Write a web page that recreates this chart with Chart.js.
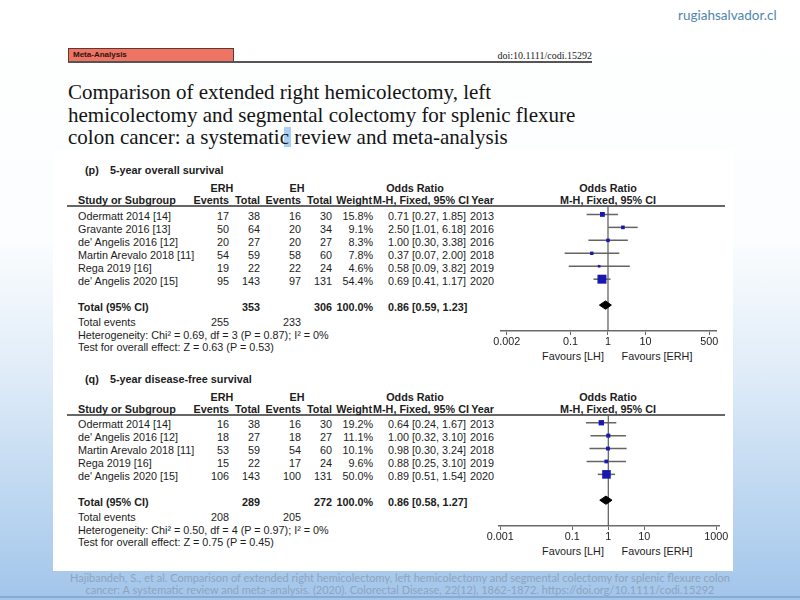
<!DOCTYPE html>
<html>
<head>
<title>ERH vs LH forest plots</title>
<script src="https://cdn.jsdelivr.net/npm/chart.js"></script>
<style>
  html, body { margin: 0; padding: 0; }
  body {
    width: 800px; height: 600px; overflow: hidden; position: relative;
    font-family: "Liberation Sans", Arial, sans-serif;
    background: linear-gradient(180deg, #ffffff 0%, #fbfdfe 40%, #e0ecf8 62%, #bad5f0 85%, #a2c5ea 100%);
  }
  .abs { position: absolute; }
  .panel { left: 53px; top: 150px; width: 680px; height: 421px; background: #fff; }
  .t { position: absolute; white-space: nowrap; font-size: 10.8px; line-height: 1; color: #1c1c1c; }
  .b { font-weight: bold; }
  .logo { left: 678px; top: 7px; font-family: Lato, sans-serif; font-size: 13.5px; color: #4f86ae; }
  .tag { left: 68px; top: 48px; width: 166px; height: 14px; background: #f07463; border: 1px solid #5a3a34; box-sizing: border-box;
         font-family: "Liberation Sans", Arial, sans-serif; font-weight: bold; font-size: 8px; line-height: 12px; padding-left: 4px; color: #2a1410; }
  .rule { left: 68px; top: 61px; width: 524px; height: 1.5px; background: #555; }
  .doi { right: 208px; top: 50px; font-family: "Liberation Serif", serif; font-size: 10px; color: #222; }
  .title { left: 68px; top: 81px; font-family: "Liberation Serif", serif; font-size: 21px; line-height: 22.5px; color: #141414; white-space: nowrap; }
  .hl { left: 284px; top: 127px; width: 7px; height: 20px; background: #a9cff2; }
  .cap { left: 0; width: 800px; top: 572px; text-align: center; font-family: Lato, sans-serif; font-size: 11px; line-height: 11.5px; color: #8ea3bf; }
  .foot { left: 0; top: 596px; width: 800px; height: 2px; background: #86acd6; }
  canvas { position: absolute; }
</style>
</head>
<body>
<div class="abs panel"></div>
<div class="abs logo">rugiahsalvador.cl</div>
<div class="abs tag">Meta-Analysis</div>
<div class="abs rule"></div>
<div class="abs doi">doi:10.1111/codi.15292</div>
<div class="abs hl"></div>
<div class="abs title">Comparison of extended right hemicolectomy, left<br>hemicolectomy and segmental colectomy for splenic flexure<br>colon cancer: a systematic review and meta-analysis</div>
<div class="abs cap">Hajibandeh, S., et al. Comparison of extended right hemicolectomy, left hemicolectomy and segmental colectomy for splenic flexure colon<br>cancer: A systematic review and meta-analysis. (2020). Colorectal Disease, 22(12), 1862-1872. https://doi.org/10.1111/codi.15292</div>
<div class="abs foot"></div>
<div id="layer"></div>
<canvas id="chartP" width="250" height="170" style="left:480px; top:195px;"></canvas>
<canvas id="chartQ" width="250" height="155" style="left:480px; top:405px;"></canvas>

<script>
// (p) 5-year overall survival
const studiesP = ['Odermatt 2014 [14]', 'Gravante 2016 [13]', "de' Angelis 2016 [12]", 'Martin Arevalo 2018 [11]', 'Rega 2019 [16]', "de' Angelis 2020 [15]"];
const erhEventsP = [17, 50, 20, 54, 19, 95];
const erhTotalP = [38, 64, 27, 59, 22, 143];
const ehEventsP = [16, 20, 20, 58, 22, 97];
const ehTotalP = [30, 34, 27, 60, 24, 131];
const weightP = [15.8, 9.1, 8.3, 7.8, 4.6, 54.4];
const orP = [0.71, 2.50, 1.00, 0.37, 0.58, 0.69];
const loP = [0.27, 1.01, 0.30, 0.07, 0.09, 0.41];
const hiP = [1.85, 6.18, 3.38, 2.00, 3.82, 1.17];
const yearP = [2013, 2016, 2016, 2018, 2019, 2020];
const totalP = [0.86, 0.59, 1.23];          // OR, lower, upper
const totalsP = [353, 306, 255, 233];       // ERH total, EH total, ERH events, EH events
const hetP = 'Heterogeneity: Chi\u00b2 = 0.69, df = 3 (P = 0.87); I\u00b2 = 0%';
const testP = 'Test for overall effect: Z = 0.63 (P = 0.53)';
const ticksP = [0.002, 0.1, 1, 10, 500];

// (q) 5-year disease-free survival
const studiesQ = ['Odermatt 2014 [14]', "de' Angelis 2016 [12]", 'Martin Arevalo 2018 [11]', 'Rega 2019 [16]', "de' Angelis 2020 [15]"];
const erhEventsQ = [16, 18, 53, 15, 106];
const erhTotalQ = [38, 27, 59, 22, 143];
const ehEventsQ = [16, 18, 54, 17, 100];
const ehTotalQ = [30, 27, 60, 24, 131];
const weightQ = [19.2, 11.1, 10.1, 9.6, 50.0];
const orQ = [0.64, 1.00, 0.98, 0.88, 0.89];
const loQ = [0.24, 0.32, 0.30, 0.25, 0.51];
const hiQ = [1.67, 3.10, 3.24, 3.10, 1.54];
const yearQ = [2013, 2016, 2018, 2019, 2020];
const totalQ = [0.86, 0.58, 1.27];
const totalsQ = [289, 272, 208, 205];
const hetQ = 'Heterogeneity: Chi\u00b2 = 0.50, df = 4 (P = 0.97); I\u00b2 = 0%';
const testQ = 'Test for overall effect: Z = 0.75 (P = 0.45)';
const ticksQ = [0.001, 0.1, 1, 10, 1000];

const layer = document.getElementById('layer');
function txt(s, x, y, align, cls) {
  const d = document.createElement('div');
  d.className = 't' + (cls ? ' ' + cls : '');
  d.textContent = s;
  d.style.left = x + 'px';
  d.style.top = y + 'px';
  const tx = align === 'right' ? '-100%' : align === 'center' ? '-50%' : '0';
  d.style.transform = 'translate(' + tx + ', -50%)';
  layer.appendChild(d);
}
const fmt = (o, l, h) => o.toFixed(2) + ' [' + l.toFixed(2) + ', ' + h.toFixed(2) + ']';

function forest(canvasId, top, pad, xMin, xMax, yMin, d) {
  const n = d.studies.length;
  const rowTotal = n + 1, rowAxis = n + 3;
  const datasets = [];
  datasets.push({
    type: 'scatter', order: 0,
    data: d.or.map((v, i) => ({ x: v, y: i })),
    pointStyle: 'rect',
    pointRadius: d.weight.map(w => Math.sqrt(w) * 0.86),
    backgroundColor: '#1818b0', borderColor: '#1818b0', borderWidth: 0
  });
  datasets.push({
    type: 'line', order: 0,
    data: [
      { x: d.total[1], y: rowTotal }, { x: d.total[0], y: rowTotal - 0.32 },
      { x: d.total[2], y: rowTotal }, { x: d.total[0], y: rowTotal + 0.32 },
      { x: d.total[1], y: rowTotal }
    ],
    fill: 'shape', backgroundColor: '#000', borderColor: '#000', borderWidth: 1,
    pointRadius: 0, tension: 0
  });
  d.studies.forEach((s, i) => {
    datasets.push({
      type: 'line', order: 1,
      data: [{ x: d.lo[i], y: i }, { x: d.hi[i], y: i }],
      borderColor: '#646464', borderWidth: 1.5, pointRadius: 0
    });
  });
  datasets.push({
    type: 'line', order: 2,
    data: [{ x: 1, y: yMin }, { x: 1, y: rowAxis }],
    borderColor: '#5a5a5a', borderWidth: 1.2, pointRadius: 0
  });

  const chart = new Chart(document.getElementById(canvasId), {
    type: 'scatter',
    data: { datasets },
    options: {
      responsive: false,
      animation: false,
      layout: { padding: pad },
      plugins: { legend: { display: false }, tooltip: { enabled: false } },
      scales: {
        x: {
          type: 'logarithmic', min: xMin, max: xMax,
          afterBuildTicks: s => { s.ticks = d.ticks.map(v => ({ value: v })); },
          afterFit: s => { s.height = 34; },
          ticks: { autoSkip: false, maxRotation: 0, padding: 1, color: '#1c1c1c',
                   font: { family: 'Liberation Sans', size: 10.8 }, callback: v => String(v) },
          grid: { drawOnChartArea: false, tickLength: 4, color: '#6a6a6a', lineWidth: 1 },
          border: { color: '#6a6a6a', width: 1.5 }
        },
        y: { type: 'linear', display: false, reverse: true, min: yMin, max: rowAxis }
      }
    }
  });

  // table text, aligned on the chart's own rows
  const ys = chart.scales.y;
  const rowY = r => top + ys.getPixelForValue(r) + 1.5;
  const line = top + chart.chartArea.top;
  const axisY = top + chart.chartArea.bottom;

  const hr = document.createElement('div');
  hr.className = 'abs';
  hr.style.cssText = 'left:67px; width:658px; height:1.5px; background:#666; top:' + (line - 0.75) + 'px';
  layer.appendChild(hr);

  txt(d.label[0], 85, line - 36, 'left', 'b');
  txt(d.label[1], 110, line - 36, 'left', 'b');
  const h1 = line - 18, h2 = line - 6;
  txt('ERH', 222, h1, 'center', 'b');
  txt('EH', 297, h1, 'center', 'b');
  txt('Odds Ratio', 415, h1, 'center', 'b');
  txt('Odds Ratio', 608, h1, 'center', 'b');
  txt('Study or Subgroup', 78, h2, 'left', 'b');
  txt('Events', 229, h2, 'right', 'b');
  txt('Total', 260, h2, 'right', 'b');
  txt('Events', 301, h2, 'right', 'b');
  txt('Total', 332, h2, 'right', 'b');
  txt('Weight', 372, h2, 'right', 'b');
  txt('M-H, Fixed, 95% CI', 373, h2, 'left', 'b');
  txt('Year', 494, h2, 'right', 'b');
  txt('M-H, Fixed, 95% CI', 608, h2, 'center', 'b');

  d.studies.forEach((s, i) => {
    const y = rowY(i);
    txt(s, 78, y, 'left');
    txt(String(d.ee[i]), 229, y, 'right');
    txt(String(d.et[i]), 260, y, 'right');
    txt(String(d.he[i]), 301, y, 'right');
    txt(String(d.ht[i]), 332, y, 'right');
    txt(d.weight[i].toFixed(1) + '%', 373, y, 'right');
    txt(fmt(d.or[i], d.lo[i], d.hi[i]), 388, y, 'left');
    txt(String(d.year[i]), 494, y, 'right');
  });

  const yt = rowY(rowTotal);
  txt('Total (95% CI)', 78, yt, 'left', 'b');
  txt(String(d.totals[0]), 260, yt, 'right', 'b');
  txt(String(d.totals[1]), 332, yt, 'right', 'b');
  txt('100.0%', 373, yt, 'right', 'b');
  txt(fmt(d.total[0], d.total[1], d.total[2]), 388, yt, 'left', 'b');
  txt('Total events', 78, yt + 15, 'left');
  txt(String(d.totals[2]), 229, yt + 15, 'right');
  txt(String(d.totals[3]), 301, yt + 15, 'right');
  txt(d.het, 78, yt + 28, 'left');
  txt(d.test, 78, yt + 40, 'left');

  txt('Favours [LH]', 573, axisY + 24.5, 'center');
  txt('Favours [ERH]', 657, axisY + 24.5, 'center');
}

forest('chartP', 195, { left: 21, right: 14, top: 11, bottom: 0 }, 0.0014, 760, -0.65, {
  label: ['(p)', '5-year overall survival'],
  studies: studiesP, ee: erhEventsP, et: erhTotalP, he: ehEventsP, ht: ehTotalP,
  weight: weightP, or: orP, lo: loP, hi: hiP, year: yearP,
  total: totalP, totals: totalsP, het: hetP, test: testP, ticks: ticksP
});
forest('chartQ', 405, { left: 19, right: 11, top: 10, bottom: 0 }, 0.00092, 1190, -0.6, {
  label: ['(q)', '5-year disease-free survival'],
  studies: studiesQ, ee: erhEventsQ, et: erhTotalQ, he: ehEventsQ, ht: ehTotalQ,
  weight: weightQ, or: orQ, lo: loQ, hi: hiQ, year: yearQ,
  total: totalQ, totals: totalsQ, het: hetQ, test: testQ, ticks: ticksQ
});
</script>
</body>
</html>
